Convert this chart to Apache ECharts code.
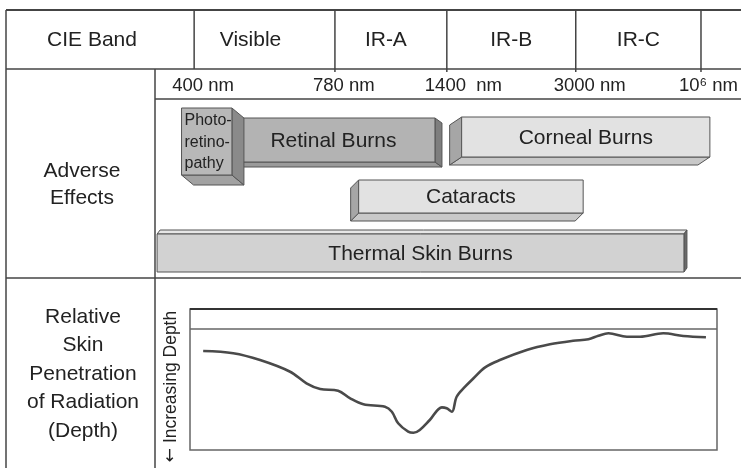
<!DOCTYPE html>
<html><head><meta charset="utf-8">
<script src="https://cdn.jsdelivr.net/npm/echarts@6/dist/echarts.min.js"></script>
<style>html,body{margin:0;padding:0;background:#fff}#c{width:741px;height:468px}</style>
</head><body><div id="c"></div>
<script>
// ---------- data (positions on a 0..100 scale across the diagram width) ----------
var bandNames = ['Visible', 'IR-A', 'IR-B', 'IR-C', ''];
var bandEdges = [26.2, 45.2, 60.3, 77.7, 94.6, 101];
var wavelengthLabels = ['400 nm', '780 nm', '1400  nm', '3000 nm', '10\u2076 nm'];

var effectNames = ['Retinal Burns', 'Photo-\nretino-\npathy', 'Corneal Burns', 'Cataracts', 'Thermal Skin Burns'];
var effectStart = [31.3, 24.5, 62.3, 48.4, 21.2];
var effectEnd   = [58.7, 31.3, 95.8, 78.7, 92.3];
var effectRow   = ['row1', 'row1', 'row1', 'row2', 'row3'];
var effectRows  = ['row1', 'row2', 'row3'];

// relative skin penetration curve (x: 0..100 across panel, depth: 0 = skin surface)
var depthPos = [2.5, 8.2, 13.3, 19.0, 22.1, 24.7, 28.1, 30.4, 32.9, 37.0, 38.3, 39.5, 41.4, 42.4, 43.6, 45.5, 47.8, 48.7, 49.7, 50.6, 52.2, 53.8, 56.0, 58.8, 63.9, 68.3, 72.7, 75.6, 77.5, 79.4, 82.9, 85.4, 89.8, 93.6, 97.9];
var depthValues = [18.6, 20.4, 26.0, 35.6, 45.1, 49.8, 51.2, 57.5, 62.4, 64.4, 68.5, 78.0, 84.9, 85.8, 83.5, 75.3, 64.9, 65.7, 68.5, 56.2, 47.9, 41.0, 32.0, 26.0, 17.7, 13.0, 10.1, 8.9, 6.0, 4.0, 6.8, 6.8, 4.0, 6.2, 7.3];

// ---------- styles ----------
var FONT = '"Liberation Sans", Arial, sans-serif';
var LINE = '#444';
var headerLabelDx = [-14, -5, 0, 0, 0];
var effectStyles = [
  {h: 44, dy: 0,   face: '#b3b3b3', side: '#7e7e7e', bottom: '#9a9a9a', ex: 7,   ey: 5,  font: 21},
  {h: 67, dy: 1.5, face: '#b8b8b8', side: '#8a8a8a', bottom: '#a2a2a2', ex: 12,  ey: 10, font: 16, left: true},
  {h: 40, dy: -3,  face: '#e2e2e2', side: '#a6a6a6', bottom: '#c8c8c8', ex: -12, ey: 8,  font: 21},
  {h: 33, dy: -0.5,face: '#e2e2e2', side: '#a6a6a6', bottom: '#c8c8c8', ex: -8,  ey: 8,  font: 21},
  {h: 38, dy: -1,  face: '#d2d2d2', side: '#6a6a6a', bottom: '#e6e6e6', ex: 3,   ey: -4, font: 21}
];

function renderHeader(params, api) {
  var i = params.dataIndex;
  var a = api.coord([api.value(0), 1]);
  var b = api.coord([api.value(1), 0]);
  var children = [{
    type: 'line', shape: {x1: a[0], y1: a[1], x2: a[0], y2: b[1] + (i > 0 ? 3 : 0)},
    style: {stroke: LINE, lineWidth: 1.5}
  }];
  if (bandNames[i]) {
    children.push({type: 'text', style: {text: bandNames[i], x: (a[0] + b[0]) / 2 + headerLabelDx[i], y: (a[1] + b[1]) / 2 + 1,
      align: 'center', verticalAlign: 'middle', font: '21px ' + FONT, fill: '#222'}});
  }
  return {type: 'group', children: children};
}

function renderWavelength(params, api) {
  var p = api.coord([api.value(0), 0]);
  return {type: 'text', style: {text: wavelengthLabels[params.dataIndex], x: p[0] - 22, y: p[1] + 17,
    align: 'left', verticalAlign: 'middle', font: '18.5px ' + FONT, fill: '#222'}};
}

function renderEffect(params, api) {
  var i = params.dataIndex, s = effectStyles[i];
  var p0 = api.coord([api.value(0), api.value(2)]);
  var p1 = api.coord([api.value(1), api.value(2)]);
  var cy = p0[1] + s.dy;
  var x0 = p0[0], x1 = p1[0], y0 = cy - s.h / 2, y1 = cy + s.h / 2;
  var ex = s.ex, ey = s.ey;
  var st = function (f) { return {fill: f, stroke: '#555', lineWidth: 1}; };
  var ch = [];
  if (ey > 0) {
    ch.push({type: 'polygon', shape: {points: [[x0, y1], [x1, y1], [x1 + ex, y1 + ey], [x0 + ex, y1 + ey]]}, style: st(s.bottom)});
  } else {
    ch.push({type: 'polygon', shape: {points: [[x0, y0], [x1, y0], [x1 + ex, y0 + ey], [x0 + ex, y0 + ey]]}, style: st(s.bottom)});
  }
  if (ex > 0) {
    ch.push({type: 'polygon', shape: {points: [[x1, y0], [x1 + ex, y0 + ey], [x1 + ex, y1 + ey], [x1, y1]]}, style: st(s.side)});
  } else {
    ch.push({type: 'polygon', shape: {points: [[x0, y0], [x0 + ex, y0 + ey], [x0 + ex, y1 + ey], [x0, y1]]}, style: st(s.side)});
  }
  ch.push({type: 'rect', shape: {x: x0, y: y0, width: x1 - x0, height: y1 - y0}, style: st(s.face)});
  ch.push({type: 'text', style: {text: effectNames[i], x: s.left ? x0 + 3 : (x0 + x1) / 2, y: cy + 1,
    align: s.left ? 'left' : 'center', verticalAlign: 'middle', font: s.font + 'px ' + FONT,
    lineHeight: 21.5, fill: '#222'}});
  return {type: 'group', children: ch};
}

var chart = echarts.init(document.getElementById('c'), null, {renderer: 'canvas'});

var headerData = bandNames.map(function (n, i) { return [bandEdges[i], bandEdges[i + 1]]; });
var wlData = wavelengthLabels.map(function (l, i) { return [bandEdges[i]]; });
var effectData = effectNames.map(function (n, i) { return [effectStart[i], effectEnd[i], effectRow[i]]; });
var depthData = depthPos.map(function (x, i) { return [x, depthValues[i]]; });

function ln(x1, y1, x2, y2, w) {
  return {type: 'line', shape: {x1: x1, y1: y1, x2: x2, y2: y2}, style: {stroke: LINE, lineWidth: w || 1.5}, silent: true};
}
function txt(t, x, y, lh) {
  return {type: 'text', x: x, y: y, style: {text: t, align: 'center', verticalAlign: 'middle', font: '21px ' + FONT, lineHeight: lh || 28, fill: '#222'}, silent: true};
}

chart.setOption({
  animation: false,
  backgroundColor: '#fff',
  grid: [
    {left: 0, right: 0, top: 10, height: 59},
    {left: 0, right: 0, top: 111.5, height: 171},
    {left: 190, right: 24, top: 309, bottom: 18, show: true, borderColor: '#666', borderWidth: 1.5}
  ],
  xAxis: [
    {gridIndex: 0, type: 'value', min: 0, max: 100, show: false},
    {gridIndex: 1, type: 'value', min: 0, max: 100, show: false},
    {gridIndex: 2, type: 'value', min: 0, max: 100, axisLine: {show: false}, axisTick: {show: false}, axisLabel: {show: false}, splitLine: {show: false}}
  ],
  yAxis: [
    {gridIndex: 0, type: 'value', min: 0, max: 1, show: false},
    {gridIndex: 1, type: 'category', data: effectRows, inverse: true, show: false},
    {gridIndex: 2, type: 'value', min: -16, max: 100, inverse: true,
     axisLine: {show: false}, axisTick: {show: false}, axisLabel: {show: false}, splitLine: {show: false},
     name: '{a|\u2190} Increasing Depth', nameLocation: 'middle', nameRotate: 90, nameGap: 10,
     nameTextStyle: {fontSize: 17.5, fontFamily: FONT, color: '#222', padding: [0, 14, 0, 0],
       rich: {a: {fontFamily: '"DejaVu Sans"', fontSize: 17, color: '#222'}}}}
  ],
  series: [
    {type: 'custom', xAxisIndex: 0, yAxisIndex: 0, data: headerData, renderItem: renderHeader, silent: true},
    {type: 'custom', xAxisIndex: 0, yAxisIndex: 0, data: wlData, renderItem: renderWavelength, silent: true},
    {type: 'custom', xAxisIndex: 1, yAxisIndex: 1, data: effectData, renderItem: renderEffect, silent: true},
    {type: 'line', xAxisIndex: 2, yAxisIndex: 2, data: depthData, smooth: 0.35, symbol: 'none',
     lineStyle: {color: '#4a4a4a', width: 2.6}, silent: true,
     markLine: {silent: true, symbol: 'none', label: {show: false},
       data: [{yAxis: 0, lineStyle: {color: '#666', width: 1.5, type: 'solid'}},
              {yAxis: -16, lineStyle: {color: '#333', width: 2, type: 'solid'}}]}}
  ],
  graphic: [
    ln(6, 10, 741, 10, 2), ln(6, 10, 6, 468), ln(6, 69, 741, 69), ln(155, 99, 741, 99),
    ln(6, 278, 741, 278), ln(155, 69, 155, 468),
    txt('CIE Band', 92, 40),
    txt('Adverse\nEffects', 82, 185, 27),
    txt('Relative\nSkin\nPenetration\nof Radiation\n(Depth)', 83, 374, 28.5)
  ]
});
</script></body></html>
